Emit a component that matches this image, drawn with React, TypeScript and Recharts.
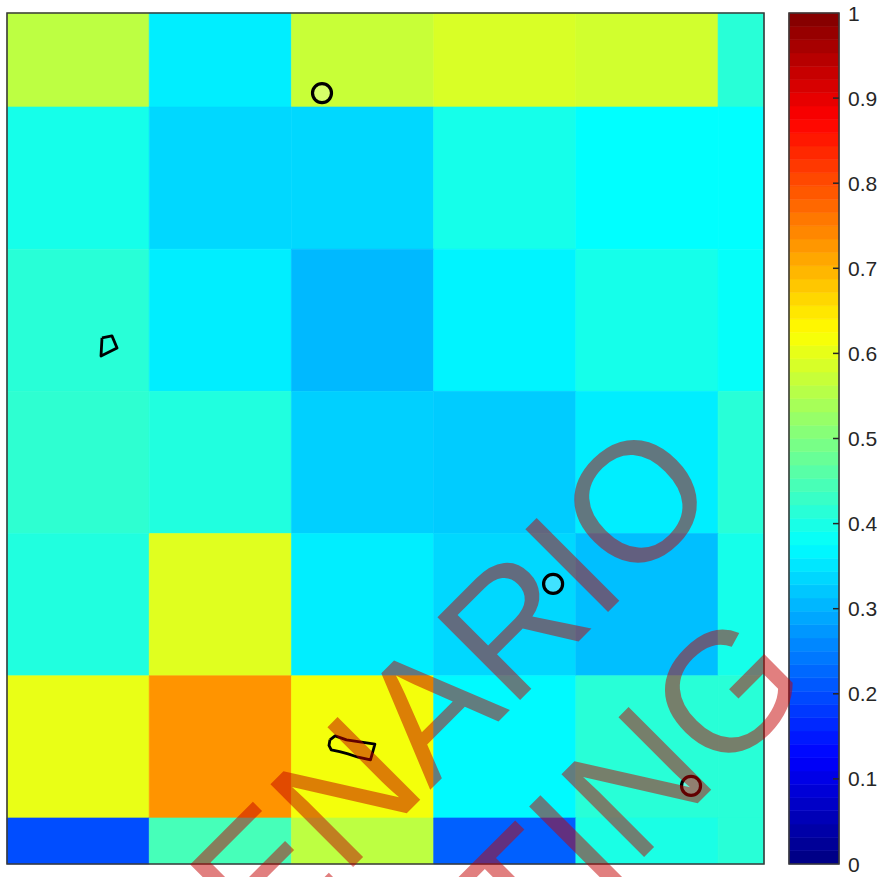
import React from 'react';
import { ComposedChart, Scatter, XAxis, YAxis, ReferenceArea } from 'recharts';

// ---- data ----
const COL_EDGES = [0, 1, 2, 3, 4, 5];
const ROW_EDGES = [0, 1, 2, 3, 4, 5, 6];
const X_DOMAIN = [0, 5.323];
const Y_DOMAIN = [0.339, 6.324];

const row0 = [0.56, 0.358, 0.571, 0.588, 0.58, 0.414];
const row1 = [0.396, 0.337, 0.337, 0.396, 0.375, 0.375];
const row2 = [0.414, 0.358, 0.306, 0.364, 0.396, 0.38];
const row3 = [0.42, 0.406, 0.329, 0.325, 0.358, 0.414];
const row4 = [0.406, 0.595, 0.358, 0.337, 0.312, 0.396];
const row5 = [0.603, 0.73, 0.614, 0.37, 0.414, 0.414];
const row6 = [0.2, 0.444, 0.56, 0.219, 0.4, 0.414];
const GRID = [row0, row1, row2, row3, row4, row5, row6];

const contourCircles = [
  { x: 2.215, y: 0.902 },
  { x: 3.84, y: 4.354 },
  { x: 4.81, y: 5.775 },
];
const contourDiamond = [
  { x: 0.668, y: 2.624 },
  { x: 0.738, y: 2.61 },
  { x: 0.774, y: 2.695 },
  { x: 0.661, y: 2.751 },
  { x: 0.668, y: 2.624 },
];
const contourBlob = [
  { x: 2.271, y: 5.451 },
  { x: 2.307, y: 5.423 },
  { x: 2.387, y: 5.451 },
  { x: 2.587, y: 5.481 },
  { x: 2.556, y: 5.592 },
  { x: 2.469, y: 5.573 },
  { x: 2.398, y: 5.55 },
  { x: 2.339, y: 5.534 },
  { x: 2.28, y: 5.522 },
  { x: 2.264, y: 5.49 },
  { x: 2.271, y: 5.451 },
];

const CBAR_TICKS = [0, 0.1, 0.2, 0.3, 0.4, 0.5, 0.6, 0.7, 0.8, 0.9, 1];
const CBAR_LABELS = ['0', '0.1', '0.2', '0.3', '0.4', '0.5', '0.6', '0.7', '0.8', '0.9', '1'];
const CBAR_STEPS = 64;

const WATERMARK_1 = 'SCENARIO';
const WATERMARK_2 = 'TESTING';

// ---- helpers ----
const clamp = (v: number) => Math.max(0, Math.min(1, v));
function jet(v: number) {
  const r = clamp(1.5 - Math.abs(4 * v - 3));
  const g = clamp(1.5 - Math.abs(4 * v - 2));
  const b = clamp(1.5 - Math.abs(4 * v - 1));
  return `rgb(${Math.round(r * 255)},${Math.round(g * 255)},${Math.round(b * 255)})`;
}

const cells: { x1: number; x2: number; y1: number; y2: number; fill: string; key: string }[] = [];
ROW_EDGES.forEach((r, ri) => {
  COL_EDGES.forEach((c, ci) => {
    const x1 = Math.max(c, X_DOMAIN[0]);
    const x2 = Math.min(c + 1, X_DOMAIN[1]);
    const y1 = Math.max(r, Y_DOMAIN[0]);
    const y2 = Math.min(r + 1, Y_DOMAIN[1]);
    cells.push({ x1, x2, y1, y2, fill: jet(GRID[ri][ci]), key: `c${ri}-${ci}` });
  });
});

const cbarBands = Array.from({ length: CBAR_STEPS }, (_, i) => ({
  lo: i / CBAR_STEPS,
  hi: (i + 1) / CBAR_STEPS,
  x: 0.5,
  y: (i + 0.5) / CBAR_STEPS,
  fill: jet((i + 0.5) / CBAR_STEPS),
}));

const EmptyShape = () => <g />;
const CircleShape = (props: any) => (
  <circle cx={props.cx} cy={props.cy} r={9.5} fill="rgba(255,255,255,0.25)" stroke="#000" strokeWidth={3.2} />
);

const CbarTick = (props: any) => {
  const { x, y, payload, index } = props;
  const idx = CBAR_TICKS.indexOf(payload.value);
  return (
    <g>
      {idx > 0 && idx < CBAR_TICKS.length - 1 && (
        <line x1={x - 6} x2={x} y1={y} y2={y} stroke="#262626" strokeWidth={1.5} />
      )}
      <text x={x + 9} y={y} dy="0.36em" fill="#262626" fontSize={21} fontFamily="Liberation Sans, Arial, sans-serif">
        {CBAR_LABELS[idx >= 0 ? idx : index]}
      </text>
    </g>
  );
};

export default function App() {
  return (
    <div style={{ position: 'absolute', left: 0, top: 0, width: 883, height: 877, background: '#fff' }}>
      <div style={{ position: 'absolute', left: 0, top: 0 }}>
        <ComposedChart width={883} height={877} margin={{ top: 13, left: 7, right: 119, bottom: 13 }} data={contourCircles}>
          <XAxis type="number" dataKey="x" domain={X_DOMAIN} allowDataOverflow hide />
          <YAxis type="number" dataKey="y" domain={Y_DOMAIN} allowDataOverflow reversed hide />
          {cells.map((c) => (
            <ReferenceArea
              key={c.key}
              x1={c.x1}
              x2={c.x2}
              y1={c.y1}
              y2={c.y2}
              fill={c.fill}
              fillOpacity={1}
              stroke={c.fill}
              strokeWidth={0.6}
              ifOverflow="visible"
            />
          ))}
          <ReferenceArea
            x1={X_DOMAIN[0]}
            x2={X_DOMAIN[1]}
            y1={Y_DOMAIN[0]}
            y2={Y_DOMAIN[1]}
            fill="none"
            fillOpacity={0}
            stroke="#3a3a3a"
            strokeWidth={1.6}
            ifOverflow="visible"
          />
          <Scatter data={contourCircles} shape={CircleShape} isAnimationActive={false} />
          <Scatter
            data={contourDiamond}
            shape={EmptyShape}
            line={{ stroke: '#000', strokeWidth: 2.8, strokeLinejoin: 'round' }}
            isAnimationActive={false}
          />
          <Scatter
            data={contourBlob}
            shape={EmptyShape}
            line={{ stroke: '#000', strokeWidth: 2.8, strokeLinejoin: 'round' }}
            isAnimationActive={false}
          />
        </ComposedChart>
      </div>
      <div style={{ position: 'absolute', left: 780, top: 0 }}>
        <ComposedChart width={103} height={877} margin={{ top: 13, left: 9, right: 0, bottom: 13 }} data={cbarBands}>
          <XAxis type="number" dataKey="x" domain={[0, 1]} allowDataOverflow hide />
          <YAxis
            type="number"
            dataKey="y"
            orientation="right"
            domain={[0, 1]}
            allowDataOverflow
            ticks={CBAR_TICKS}
            interval={0}
            width={44}
            axisLine={false}
            tickLine={false}
            tickSize={0}
            tickMargin={0}
            tick={<CbarTick />}
          />
          {cbarBands.map((b, i) => (
            <ReferenceArea
              key={i}
              x1={0}
              x2={1}
              y1={b.lo}
              y2={b.hi}
              fill={b.fill}
              fillOpacity={1}
              stroke={b.fill}
              strokeWidth={0.6}
              ifOverflow="visible"
            />
          ))}
          <ReferenceArea x1={0} x2={1} y1={0} y2={1} fill="none" fillOpacity={0} stroke="#3a3a3a" strokeWidth={1.6} ifOverflow="visible" />
          <Scatter data={cbarBands} shape={EmptyShape} isAnimationActive={false} />
        </ComposedChart>
      </div>
      <svg width={883} height={877} style={{ position: 'absolute', left: 0, top: 0, pointerEvents: 'none' }}>
        <text
          x={410}
          y={810}
          textAnchor="middle"
          transform="rotate(-45 410 810)"
          fontSize={170}
          fontFamily="Liberation Sans, Arial, sans-serif"
          fill="rgb(195,0,0)"
          fillOpacity={0.5}
        >
          {WATERMARK_1}
        </text>
        <text
          x={554}
          y={947}
          textAnchor="middle"
          transform="rotate(-45 554 947)"
          fontSize={170}
          fontFamily="Liberation Sans, Arial, sans-serif"
          fill="rgb(195,0,0)"
          fillOpacity={0.5}
        >
          {WATERMARK_2}
        </text>
      </svg>
    </div>
  );
}
